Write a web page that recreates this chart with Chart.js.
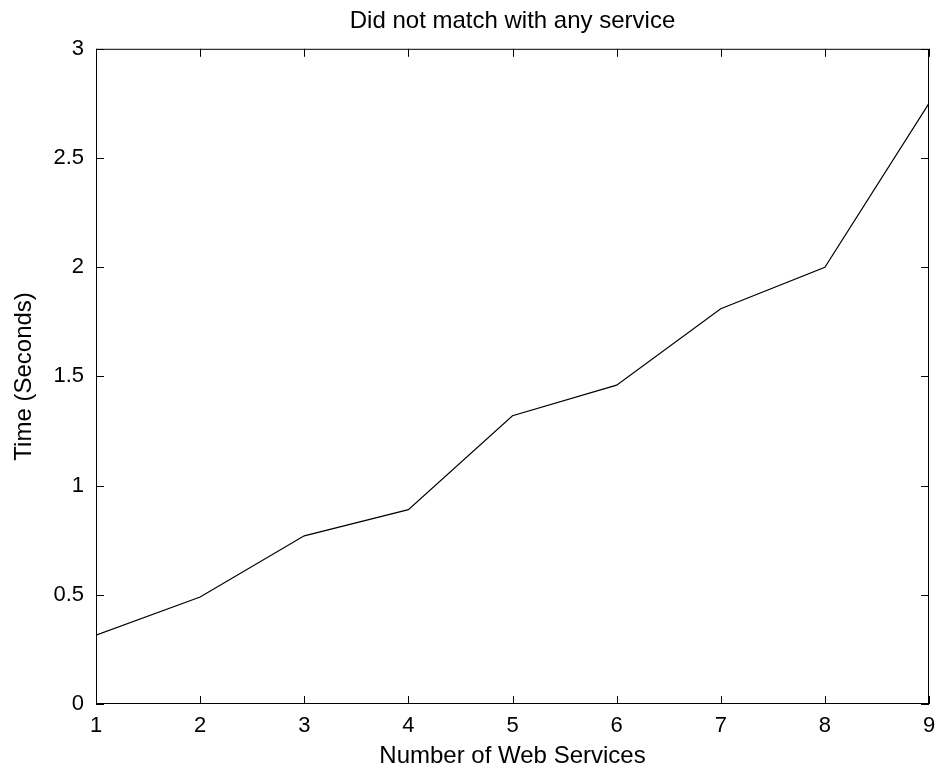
<!DOCTYPE html>
<html>
<head>
<meta charset="utf-8">
<script src="https://cdn.jsdelivr.net/npm/chart.js@4/dist/chart.umd.min.js"></script>
<style>
  html, body { margin: 0; padding: 0; background: #fff; }
  #wrap { width: 937px; height: 772px; }
</style>
</head>
<body>
<div id="wrap"><canvas id="chart" width="937" height="772"></canvas></div>
<script>
const services = [1, 2, 3, 4, 5, 6, 7, 8, 9];
const times = [0.315, 0.49, 0.77, 0.89, 1.32, 1.46, 1.81, 2.0, 2.75];
const yTicks = [0, 0.5, 1, 1.5, 2, 2.5, 3];

const FONT = "'Liberation Sans', Arial, sans-serif";

// matlab style: box around plot, ticks pointing inwards on all four sides
const boxTicks = {
  id: "boxTicks",
  afterDraw(chart) {
    const { ctx, chartArea: a, scales } = chart;
    const len = 8;
    ctx.save();
    ctx.strokeStyle = "#000";
    ctx.lineWidth = 1;
    ctx.strokeRect(a.left + 0.5, a.top + 0.5, a.right - a.left - 1, a.bottom - a.top - 1);
    ctx.beginPath();
    scales.x.ticks.forEach((t) => {
      const px = Math.round(scales.x.getPixelForValue(t.value)) + 0.5;
      ctx.moveTo(px, a.bottom);
      ctx.lineTo(px, a.bottom - len);
      ctx.moveTo(px, a.top);
      ctx.lineTo(px, a.top + len);
    });
    scales.y.ticks.forEach((t) => {
      const py = Math.round(scales.y.getPixelForValue(t.value)) + 0.5;
      ctx.moveTo(a.left, py);
      ctx.lineTo(a.left + len, py);
      ctx.moveTo(a.right, py);
      ctx.lineTo(a.right - len, py);
    });
    ctx.stroke();
    ctx.restore();
  },
};

new Chart(document.getElementById("chart"), {
  type: "line",
  data: {
    datasets: [
      {
        data: services.map((s, i) => ({ x: s, y: times[i] })),
        borderColor: "#000",
        borderWidth: 1.2,
        pointRadius: 0,
        tension: 0,
        fill: false,
      },
    ],
  },
  options: {
    responsive: false,
    animation: false,
    layout: { padding: { top: 0, right: 8, left: 0, bottom: 0 } },
    plugins: {
      legend: { display: false },
      tooltip: { enabled: false },
      title: {
        display: true,
        fullSize: false,
        text: "Did not match with any service",
        color: "#000",
        font: { family: FONT, size: 24, weight: "normal" },
        padding: { top: 7, bottom: 13 },
      },
    },
    scales: {
      x: {
        type: "linear",
        min: 1,
        max: 9,
        ticks: {
          stepSize: 1,
          color: "#000",
          font: { family: FONT, size: 22 },
          padding: 9,
          maxRotation: 0,
        },
        grid: { display: false, drawTicks: false },
        border: { display: false },
        title: {
          display: true,
          text: "Number of Web Services",
          color: "#000",
          font: { family: FONT, size: 24 },
          padding: 1,
        },
        afterFit(scale) {
          scale.height = 68;
          scale.paddingLeft = 0;
          scale.paddingRight = 0;
        },
      },
      y: {
        min: 0,
        max: 3,
        afterBuildTicks(scale) {
          scale.ticks = yTicks.map((v) => ({ value: v }));
        },
        ticks: {
          color: "#000",
          font: { family: FONT, size: 22 },
          padding: 12,
          callback: (v) => String(v),
        },
        grid: { display: false, drawTicks: false },
        border: { display: false },
        title: {
          display: true,
          text: "Time (Seconds)",
          color: "#000",
          font: { family: FONT, size: 24 },
          padding: 10,
        },
        afterFit(scale) { scale.width = 96; },
      },
    },
  },
  plugins: [boxTicks],
});
</script>
</body>
</html>
